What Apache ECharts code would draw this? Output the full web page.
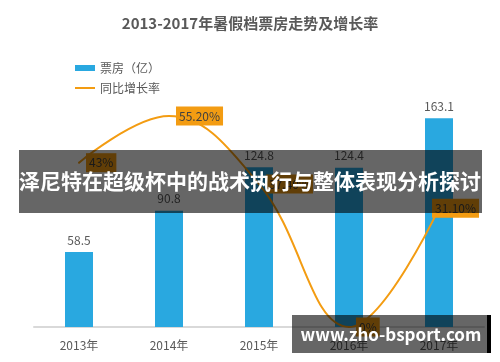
<!DOCTYPE html>
<html><head><meta charset="utf-8">
<script src="https://cdn.jsdelivr.net/npm/echarts@6/dist/echarts.min.js"></script>
<style>html,body{margin:0;padding:0;background:#fff}#c{width:500px;height:362px}</style>
</head><body><div id="c"></div>
<script>
const categories = ['2013年','2014年','2015年','2016年','2017年'];
const boxOffice = [58.5, 90.8, 124.8, 124.4, 163.1];
const growthRate = [43, 55.2, 37.4, 0, 31.1];
const growthLabels = ['43%','55.20%','37.40%','0%','31.10%'];
const titleText = '2013-2017年暑假档票房走势及增长率';
const bannerText = '泽尼特在超级杯中的战术执行与整体表现分析探讨';
const watermarkText = 'www.zho-bsport.com';

const FONT = '"Noto Sans CJK SC", "Microsoft YaHei", sans-serif';
const chart = echarts.init(document.getElementById('c'), null, {renderer:'canvas'});
chart.setOption({
  animation:false,
  textStyle:{fontFamily:FONT},
  title:{text:titleText,left:'center',top:11,textStyle:{fontSize:15,fontWeight:'bold',color:'#595959',fontFamily:FONT}},
  legend:{orient:'vertical',left:70,top:57,itemWidth:20,itemHeight:6,itemGap:8,
    textStyle:{fontSize:12,color:'#595959',fontFamily:FONT},
    data:[{name:'票房（亿）',icon:'rect'},{name:'同比增长率',icon:'path://M0,0H20V2H0Z',itemStyle:{color:'#F39C12',opacity:1}}]},
  grid:{left:34,right:16,top:71,bottom:35},
  xAxis:{type:'category',data:categories,
    axisLine:{lineStyle:{color:'#d9d9d9',width:2}},axisTick:{show:false},
    axisLabel:{color:'#595959',fontSize:12,margin:12,fontFamily:FONT}},
  yAxis:[
    {type:'value',min:0,max:200,show:false,splitLine:{show:false}},
    {type:'value',min:0,max:67,show:false,splitLine:{show:false}}
  ],
  series:[
    {name:'票房（亿）',type:'bar',data:boxOffice,barWidth:28,yAxisIndex:0,
     itemStyle:{color:'#29A8E0'},
     label:{show:true,position:'top',color:'#595959',fontSize:12,distance:6,fontFamily:FONT}},
    {name:'同比增长率',type:'line',yAxisIndex:1,smooth:0.4,symbol:'circle',symbolSize:2,showSymbol:true,
     lineStyle:{color:'#F39C12',width:2},itemStyle:{color:'#F39C12'},
     data:growthRate.map((v,i)=>({value:v,label:i===4?{offset:[-14,0]}:{}})),
     label:{show:true,position:'right',distance:6,formatter:p=>growthLabels[p.dataIndex],
       backgroundColor:'#F39C12',color:'#404040',fontSize:12,padding:[4,3,3,3],fontFamily:FONT},
     z:5}
  ],
  graphic:[
    {type:'rect',shape:{x:19,y:150,width:463,height:63},style:{fill:'rgba(0,0,0,0.6)'},z:100},
    {type:'text',x:250,y:181,style:{text:bannerText,fill:'#fff',font:'bold 21px '+FONT,align:'center',verticalAlign:'middle'},z:101},
    {type:'rect',shape:{x:292,y:315,width:195,height:38},style:{fill:'rgba(0,0,0,0.6)'},z:100},
    {type:'rect',shape:{x:487,y:315,width:4,height:38},style:{fill:'#000'},z:100},
    {type:'text',x:391,y:335,style:{text:watermarkText,fill:'#fff',font:'bold 17px '+FONT,align:'center',verticalAlign:'middle'},z:101}
  ]
});
</script></body></html>
